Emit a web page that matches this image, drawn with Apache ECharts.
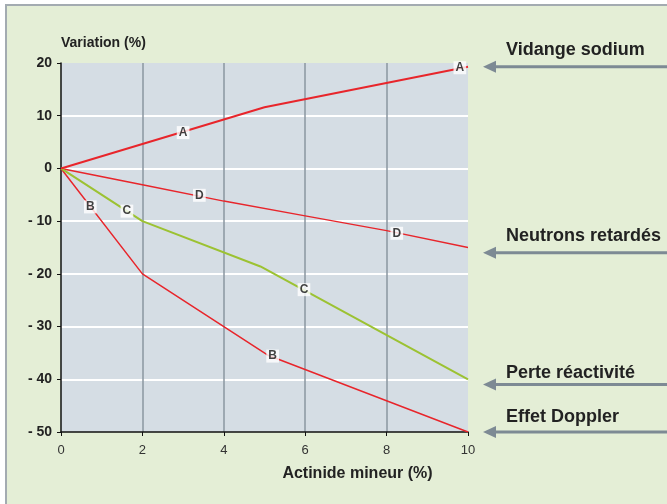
<!DOCTYPE html>
<html><head><meta charset="utf-8">
<script src="https://cdn.jsdelivr.net/npm/echarts@6/dist/echarts.min.js"></script>
<style>
html,body{margin:0;padding:0;background:#fff;overflow:hidden}
#frame{position:absolute;left:5px;top:4px;width:700px;height:540px;background:#e4eed6;border-left:2px solid #a3abb1;border-top:2px solid #a3abb1}
#c{position:absolute;left:0;top:0;width:667px;height:504px}
</style></head>
<body><div id="frame"></div><div id="c"></div>
<script>
// ---- data ----
const xTicks = [0, 2, 4, 6, 8, 10];
const yTicks = [-50, -40, -30, -20, -10, 0, 10, 20];
const seriesA = [[0, 0], [5, 11.6], [10, 19.3]];          // Vidange sodium
const seriesB = [[0, 0], [2, -20], [5.1, -35.5], [10, -50]]; // Effet Doppler
const seriesC = [[0, 0], [2, -10], [4.9, -18.6], [10, -40]]; // Perte réactivité
const seriesD = [[0, 0], [2, -3.1], [4, -6.2], [6, -9], [8, -11.8], [10, -15]]; // Neutrons retardés
const labelsA = [[3.0, 6.8, 'A'], [9.8, 19.1, 'A']];
const labelsB = [[0.72, -7.3, 'B'], [5.2, -35.6, 'B']];
const labelsC = [[1.62, -8.1, 'C'], [5.97, -23, 'C']];
const labelsD = [[3.4, -5.1, 'D'], [8.25, -12.3, 'D']];
const annotationNames = ['Vidange sodium', 'Neutrons retardés', 'Perte réactivité', 'Effet Doppler'];
const annotationValues = [19.3, -16, -41, -50];
const xName = 'Actinide mineur (%)';
const yName = 'Variation (%)';

// ---- styles ----
const RED = '#e8252b', GREEN = '#9cc232', FONT = '"Liberation Sans", Arial, sans-serif';
const textOffsets = [-17, -17, -12, -15];

function lineSeries(data, color, width) {
  return { type: 'line', data: data, showSymbol: false, symbol: 'none', silent: true,
    lineStyle: { color: color, width: width }, z: 3 };
}
function labelSeries(data) {
  return { type: 'scatter', data: data, symbolSize: 0, silent: true, z: 5,
    label: { show: true, position: 'inside', formatter: p => p.value[2],
      backgroundColor: '#fff', color: '#111', fontWeight: 'bold', fontSize: 12,
      fontFamily: FONT, padding: [1, 2, 0, 2], lineHeight: 12 } };
}

const chart = echarts.init(document.getElementById('c'), null, { renderer: 'canvas' });
chart.setOption({
  backgroundColor: 'transparent',
  animation: false,
  textStyle: { fontFamily: FONT },
  grid: { left: 61, top: 63, right: 199, bottom: 72, show: true, backgroundColor: '#d5dde4', borderWidth: 0 },
  xAxis: {
    type: 'value', min: xTicks[0], max: xTicks[xTicks.length - 1], interval: 2,
    name: xName, nameLocation: 'middle', nameGap: 34,
    nameTextStyle: { fontWeight: 'bold', fontSize: 16, color: '#222', fontFamily: FONT, padding: [0, 0, 0, 186] },
    axisLine: { show: true, onZero: false, lineStyle: { color: '#111', width: 1.5 } },
    axisTick: { show: true, length: 4, lineStyle: { color: '#111' } },
    axisLabel: { fontSize: 13, color: '#333', margin: 12, fontFamily: FONT },
    splitLine: { show: true, showMinLine: false, showMaxLine: false, lineStyle: { color: '#8a96a0', width: 1.5 } }
  },
  yAxis: {
    type: 'value', min: yTicks[0], max: yTicks[yTicks.length - 1], interval: 10,
    name: yName, nameLocation: 'end', nameGap: 20,
    nameTextStyle: { fontWeight: 'bold', fontSize: 14, color: '#222', fontFamily: FONT, align: 'left', verticalAlign: 'middle' },
    axisLine: { show: true, onZero: false, lineStyle: { color: '#111', width: 1.5 } },
    axisTick: { show: true, length: 4, lineStyle: { color: '#111' } },
    axisLabel: { fontSize: 14, fontWeight: 'bold', color: '#222', margin: 9, fontFamily: FONT,
      formatter: v => v < 0 ? '- ' + (-v) : '' + v },
    splitLine: { show: true, showMinLine: false, showMaxLine: false, lineStyle: { color: '#ffffff', width: 2 } }
  },
  series: [
    lineSeries(seriesD, RED, 1.5),
    lineSeries(seriesB, RED, 1.5),
    lineSeries(seriesC, GREEN, 2),
    lineSeries(seriesA, RED, 2),
    labelSeries(labelsA), labelSeries(labelsB), labelSeries(labelsC), labelSeries(labelsD)
  ]
});

// annotations on the right, placed through the y scale
const graphics = [];
annotationValues.forEach((v, i) => {
  const y = chart.convertToPixel({ yAxisIndex: 0 }, v);
  graphics.push({ type: 'line', shape: { x1: 494, y1: y, x2: 680, y2: y }, style: { stroke: '#7d8a94', lineWidth: 3 }, silent: true });
  graphics.push({ type: 'polygon', shape: { points: [[483, y], [496, y - 6], [496, y + 6]] }, style: { fill: '#7d8a94' }, silent: true });
  graphics.push({ type: 'text', x: 506, y: y + textOffsets[i], style: { text: annotationNames[i], fill: '#222',
    font: 'bold 18px ' + FONT, textVerticalAlign: 'middle', verticalAlign: 'middle' }, silent: true });
});
chart.setOption({ graphic: graphics });
</script>
</body></html>
